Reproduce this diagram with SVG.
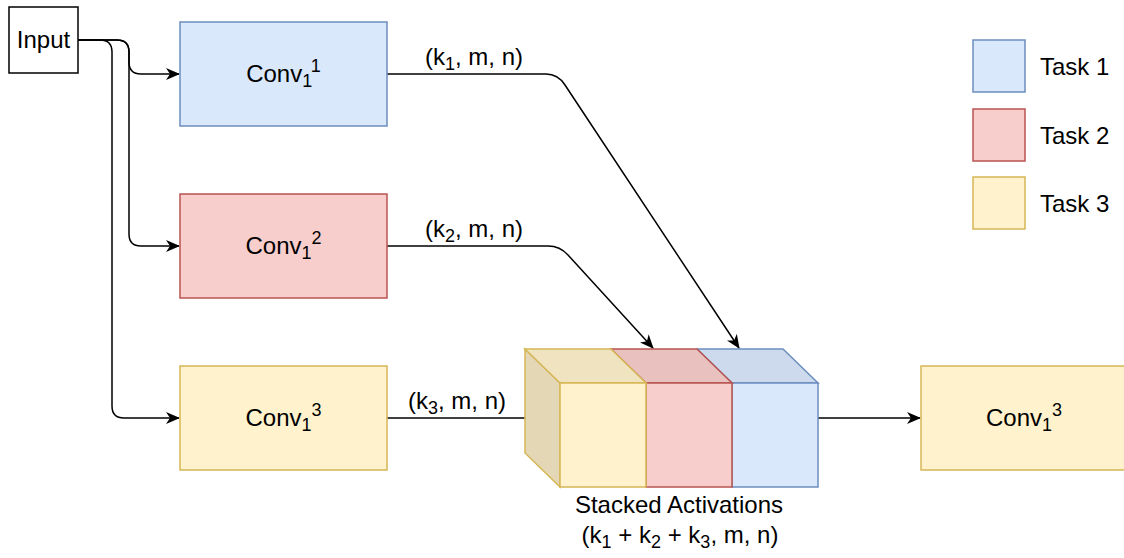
<svg xmlns="http://www.w3.org/2000/svg" width="1124" height="558" viewBox="0 0 1124 558">
<defs>
<style>
text{font-family:"Liberation Sans",Arial,sans-serif;font-size:24px;fill:#000}
.mid{text-anchor:middle}
.box{stroke-width:1.5}
.blue{fill:#dae8fc;stroke:#6c8ebf}
.red{fill:#f8cecc;stroke:#b85450}
.yel{fill:#fff2cc;stroke:#d6b656}
.blueT{fill:#cddaed;stroke:#6c8ebf}
.redT{fill:#e9c2c0;stroke:#b85450}
.yelT{fill:#f0e4c0;stroke:#d6b656}
.yelS{fill:#e3d7b6;stroke:#d6b656}
.edge{fill:none;stroke:#000;stroke-width:1.5}
.s{font-size:18px}
</style>
<marker id="arr" markerUnits="userSpaceOnUse" markerWidth="14" markerHeight="12" viewBox="0 0 14 12" refX="13" refY="6" orient="auto">
<path d="M0,0 L14,6 L0,12 L4,6 z" fill="#000"/>
</marker>
</defs>
<rect width="1124" height="558" fill="#fff"/>

<g id="connectors">
<path class="edge" d="M78,40 H100 Q112,40 112,52 V406 Q112,418 124,418 H179" marker-end="url(#arr)"/>
<path class="edge" d="M78,40 H117 Q129,40 129,52 V234 Q129,246 141,246 H179" marker-end="url(#arr)"/>
<path class="edge" d="M78,40 H117 Q129,40 129,52 V62 Q129,74 141,74 H179" marker-end="url(#arr)"/>
<path class="edge" d="M387,74 H546 Q558,74 565,85 L739,348" marker-end="url(#arr)"/>
<path class="edge" d="M387,246 H548 Q560,246 568,255 L653,348" marker-end="url(#arr)"/>
<path class="edge" d="M387,418 H525"/>
<path class="edge" d="M818,418 H920" marker-end="url(#arr)"/>
<text class="mid" x="474" y="65">(k<tspan class="s" dy="5">1</tspan><tspan dy="-5">, m, n)</tspan></text>
<text class="mid" x="474" y="237">(k<tspan class="s" dy="5">2</tspan><tspan dy="-5">, m, n)</tspan></text>
<text class="mid" x="457" y="409">(k<tspan class="s" dy="5">3</tspan><tspan dy="-5">, m, n)</tspan></text>
</g>

<g id="input">
<rect x="9" y="7" width="69" height="66" fill="#fff" stroke="#000" stroke-width="1.5"/>
<text class="mid" x="43.5" y="48">Input</text>
</g>

<g id="conv1-1">
<rect class="box blue" x="180" y="22" width="207" height="104"/>
<text class="mid" x="283.5" y="82">Conv<tspan class="s" dy="5">1</tspan><tspan class="s" dy="-15">1</tspan></text>
</g>
<g id="conv1-2">
<rect class="box red" x="180" y="194" width="207" height="104"/>
<text class="mid" x="283.5" y="254">Conv<tspan class="s" dy="5">1</tspan><tspan class="s" dy="-15">2</tspan></text>
</g>
<g id="conv1-3">
<rect class="box yel" x="180" y="366" width="207" height="104"/>
<text class="mid" x="283.5" y="426">Conv<tspan class="s" dy="5">1</tspan><tspan class="s" dy="-15">3</tspan></text>
</g>

<g id="stacked">
<g id="cube-blue">
<polygon class="box blueT" points="697,349 783,349 818,383 732,383"/>
<rect class="box blue" x="732" y="383" width="86" height="104"/>
</g>
<g id="cube-red">
<polygon class="box redT" points="611,349 697,349 732,383 646,383"/>
<rect class="box red" x="646" y="383" width="86" height="104"/>
</g>
<g id="cube-yellow">
<polygon class="box yelS" points="525,349 560,383 560,487 525,453"/>
<polygon class="box yelT" points="525,349 611,349 646,383 560,383"/>
<rect class="box yel" x="560" y="383" width="86" height="104"/>
</g>
<text class="mid" x="679" y="513">Stacked Activations</text>
<text class="mid" x="680" y="543">(k<tspan class="s" dy="5">1</tspan><tspan dy="-5"> + k</tspan><tspan class="s" dy="5">2</tspan><tspan dy="-5"> + k</tspan><tspan class="s" dy="5">3</tspan><tspan dy="-5">, m, n)</tspan></text>
</g>

<g id="conv1-3-out">
<rect class="box yel" x="921" y="366" width="207" height="104"/>
<text class="mid" x="1024" y="426">Conv<tspan class="s" dy="5">1</tspan><tspan class="s" dy="-15">3</tspan></text>
</g>

<g id="legend">
<g id="legend-task1">
<rect class="box blue" x="973" y="40" width="52" height="52"/>
<text x="1040" y="75">Task 1</text>
</g>
<g id="legend-task2">
<rect class="box red" x="973" y="109" width="52" height="52"/>
<text x="1040" y="144">Task 2</text>
</g>
<g id="legend-task3">
<rect class="box yel" x="973" y="177" width="52" height="52"/>
<text x="1040" y="212">Task 3</text>
</g>
</g>
</svg>
